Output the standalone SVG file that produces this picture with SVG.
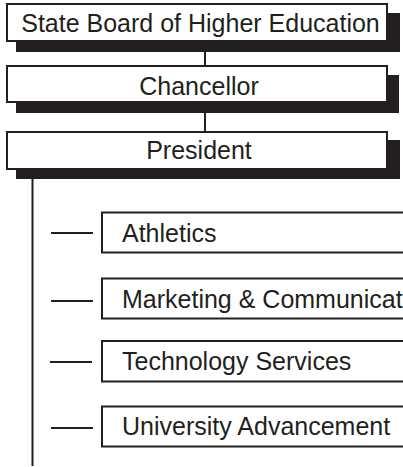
<svg xmlns="http://www.w3.org/2000/svg" width="403" height="467" viewBox="0 0 403 467">
<style>
.box{fill:#fff;stroke:#231f20;stroke-width:2}
.shadow{fill:#231f20}
.line{stroke:#231f20;stroke-width:2;fill:none}
text{font-family:"Liberation Sans",Arial,sans-serif;font-size:25px;fill:#231f20}
.c{text-anchor:middle}
</style>
<rect width="403" height="467" fill="#fff"/>
<g id="connectors">
<line class="line" x1="205" y1="42" x2="205" y2="66"/>
<line class="line" x1="205" y1="102" x2="205" y2="132"/>
<line class="line" x1="32.5" y1="178" x2="32.5" y2="466"/>
<line class="line" x1="51" y1="233" x2="93" y2="233"/>
<line class="line" x1="51" y1="301" x2="93" y2="301"/>
<line class="line" x1="50" y1="362" x2="92" y2="362"/>
<line class="line" x1="51" y1="428" x2="93" y2="428"/>
</g>
<g id="board">
<rect class="shadow" x="16" y="13" width="384" height="39"/>
<rect class="box" x="7" y="4" width="380" height="37"/>
<text class="c" x="200.5" y="31.5">State Board of Higher Education</text>
</g>
<g id="chancellor">
<rect class="shadow" x="16" y="75" width="383" height="38"/>
<rect class="box" x="7" y="66" width="380" height="36"/>
<text class="c" x="199" y="94.5">Chancellor</text>
</g>
<g id="president">
<rect class="shadow" x="16" y="140" width="384" height="39"/>
<rect class="box" x="7" y="132" width="380" height="37"/>
<text class="c" x="199" y="159">President</text>
</g>
<g id="athletics">
<rect class="box" x="102" y="212.5" width="320" height="40"/>
<text x="122" y="241.5">Athletics</text>
</g>
<g id="marketing">
<rect class="box" x="102" y="278.5" width="320" height="40"/>
<text x="122" y="307.5">Marketing &amp; Communicat</text>
</g>
<g id="technology">
<rect class="box" x="102" y="341" width="320" height="40.5"/>
<text x="122" y="370">Technology Services</text>
</g>
<g id="advancement">
<rect class="box" x="102" y="406.5" width="320" height="40"/>
<text x="122" y="435">University Advancement</text>
</g>
</svg>
